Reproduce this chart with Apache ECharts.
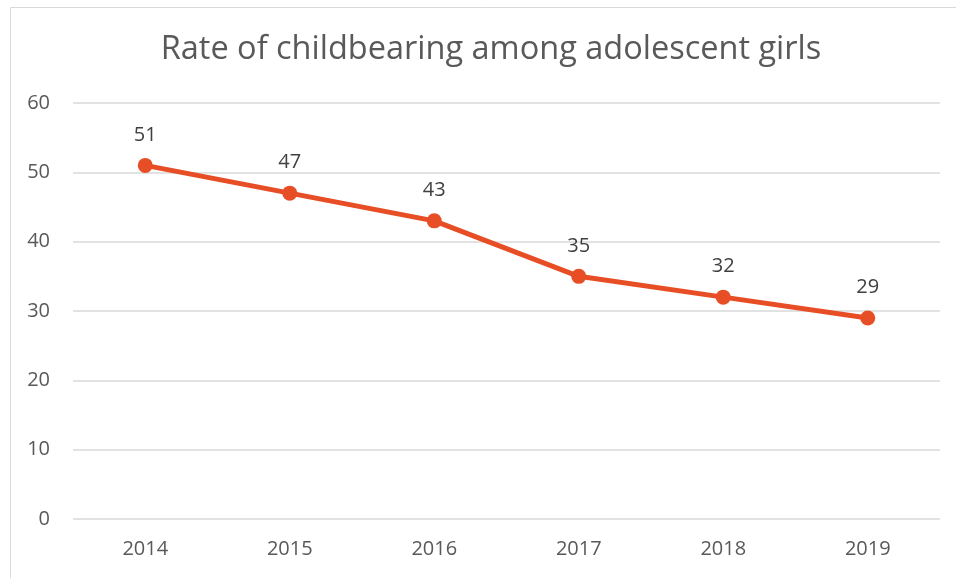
<!DOCTYPE html>
<html><head><meta charset="utf-8">
<script src="https://cdn.jsdelivr.net/npm/echarts@6/dist/echarts.min.js"></script>
<style>html,body{margin:0;padding:0;background:#fff}#c{width:956px;height:578px}</style>
</head><body><div id="c"></div>
<script>
const titleText = 'Rate of childbearing among adolescent girls';
const years = ['2014','2015','2016','2017','2018','2019'];
const rates = [51, 47, 43, 35, 32, 29];
const yTicks = [0, 10, 20, 30, 40, 50, 60];

const chart = echarts.init(document.getElementById('c'), null, {renderer: 'canvas'});
const font = '"Open Sans", "Liberation Sans", sans-serif';
chart.setOption({
  animation: false,
  backgroundColor: '#fff',
  graphic: [{
    type: 'rect', left: 8, top: 5, z: -1,
    shape: {width: 1000, height: 620},
    style: {fill: 'none', stroke: '#d9d9d9', lineWidth: 1}
  }],
  title: {
    text: titleText, left: 486, top: 28, textAlign: 'center',
    textStyle: {fontFamily: font, fontSize: 32.5, fontWeight: 'normal', color: '#595959'}
  },
  grid: {left: 73, right: 16, top: 103, bottom: 59, containLabel: false},
  xAxis: {
    type: 'category', data: years, boundaryGap: true,
    axisLine: {show: false}, axisTick: {show: false},
    axisLabel: {fontFamily: font, fontSize: 20, color: '#595959', margin: 20}
  },
  yAxis: {
    type: 'value', min: yTicks[0], max: yTicks[yTicks.length-1], interval: 10,
    axisLine: {show: false}, axisTick: {show: false},
    axisLabel: {fontFamily: font, fontSize: 20, color: '#595959', margin: 23},
    splitLine: {lineStyle: {color: '#d9d9d9', width: 1.5}}
  },
  series: [{
    type: 'line', data: rates,
    symbol: 'circle', symbolSize: 15,
    lineStyle: {color: '#E84E25', width: 5},
    itemStyle: {color: '#E84E25'},
    label: {show: true, position: 'top', distance: 13, fontFamily: font, fontSize: 20, color: '#404040'}
  }]
});
</script></body></html>
